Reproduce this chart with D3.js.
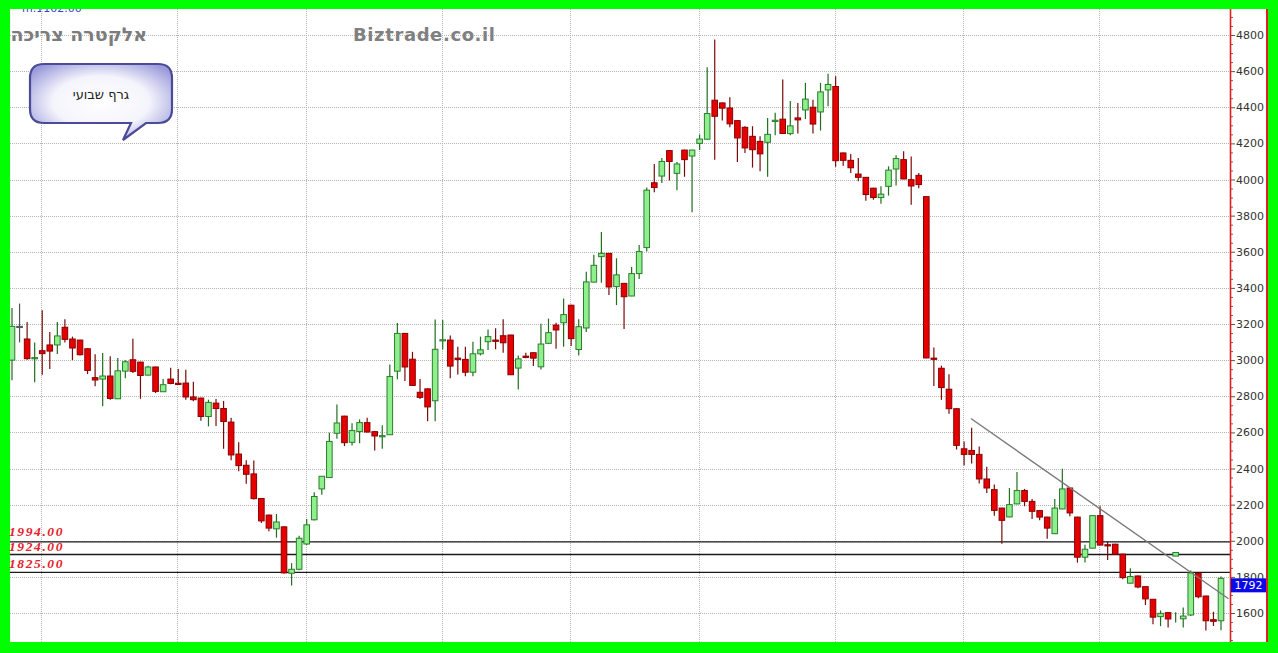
<!DOCTYPE html>
<html><head><meta charset="utf-8">
<script src="https://cdn.jsdelivr.net/npm/d3@7"></script>
<style>html,body{margin:0;padding:0;background:#00ff00;overflow:hidden}</style>
</head><body><svg id="c" width="1278" height="653"></svg>
<script>
// ---- data (weekly candles) ----
const opens=[3000,3187,3117,3010,3052,3084,3084,3182,3117,3111,
3063,2903,2895,2912,2786,2939,3002,2989,2917,2962,
2825,2895,2872,2873,2796,2790,2688,2762,2732,2657,
2480,2418,2370,2234,2142,2066,2077,1820,1842,1982,
2116,2287,2350,2595,2690,2545,2605,2654,2604,2578,
2587,2939,3148,3005,2822,2841,2775,3110,3111,3011,
3004,2933,3035,3102,3111,3135,3139,2956,3022,3041,
2963,3093,3194,3207,3304,3059,3178,3432,3573,3591,
3407,3425,3355,3479,3623,3982,4019,4160,4034,4163,
4130,4200,4223,4439,4424,4396,4326,4289,4239,4211,
4206,4324,4334,4254,4341,4385,4400,4374,4496,4515,
4147,4106,4030,4012,3952,3900,3962,4058,4110,3999,
4023,3905,3011,2955,2839,2731,2509,2500,2478,2342,
2283,2181,2132,2204,2278,2218,2167,2131,2039,2176,
2292,2131,1909,1959,2139,1978,1981,1926,1765,1805,
1746,1676,1580,1602,1915,1568,1589,1820,1694,1563,
1557];
const highs=[3289,3313,3211,3098,3276,3156,3211,3226,3130,3113,
3065,3032,3039,3021,3012,3000,3119,2991,2969,2964,
2895,2958,2951,2947,2880,2792,2781,2785,2774,2681,
2546,2446,2444,2236,2146,2148,2080,1876,2028,2120,
2268,2357,2598,2754,2692,2650,2672,2681,2606,2639,
2976,3206,3150,3046,2896,2843,3225,3222,3137,3074,
3074,3102,3130,3170,3176,3226,3141,3026,3041,3043,
3202,3230,3207,3341,3306,3226,3489,3584,3710,3593,
3564,3427,3516,3638,3956,4086,4119,4162,4097,4165,
4165,4249,4622,4775,4426,4456,4328,4295,4295,4239,
4341,4369,4554,4434,4424,4535,4441,4535,4585,4572,
4149,4141,4119,4014,3954,3962,4073,4134,4156,4128,
4036,3907,3070,2969,2922,2733,2550,2626,2522,2409,
2311,2183,2292,2381,2287,2231,2169,2133,2231,2398,
2294,2133,1978,2141,2191,1996,1983,1928,1848,1807,
1748,1678,1614,1604,1604,1631,1835,1822,1696,1607,
1802];
const lows=[2888,3098,3002,2877,2919,2951,3034,3098,3000,3025,
2923,2855,2744,2781,2786,2900,2929,2786,2915,2818,
2823,2867,2865,2781,2772,2664,2633,2635,2509,2445,
2385,2315,2229,2098,2052,2017,1818,1752,1836,1976,
2112,2255,2348,2565,2524,2528,2540,2600,2500,2509,
2585,2894,2885,2859,2785,2662,2661,3059,2900,2920,
2911,2911,3026,3056,3060,3041,2917,2837,3011,2967,
2948,3090,3063,3074,3078,3026,3156,3430,3428,3360,
3305,3172,3353,3449,3601,3930,3980,3995,3941,4015,
3819,4163,4221,4110,4326,4289,4097,4147,4066,4045,
4015,4245,4252,4245,4255,4335,4255,4271,4406,4070,
4076,4036,3990,3882,3888,3866,3911,3967,4002,3860,
3952,3010,2857,2780,2703,2505,2417,2428,2317,2265,
2139,1983,2130,2202,2191,2120,2113,2011,2037,2174,
2135,1879,1879,1957,1976,1894,1924,1787,1763,1737,
1644,1538,1527,1520,1548,1520,1583,1681,1503,1528,
1505];
const closes=[3187,3187,3008,3014,3036,3050,3134,3115,3067,3030,
2943,2890,2912,2788,2941,2991,2938,2915,2962,2827,
2864,2871,2869,2796,2781,2688,2766,2732,2660,2475,
2416,2368,2233,2110,2070,2104,1822,1842,2014,2088,
2245,2357,2550,2652,2543,2610,2654,2602,2580,2582,
2909,3148,2962,2860,2794,2741,3060,3113,2967,3004,
2933,3035,3057,3130,3104,3096,2919,3007,3015,3011,
3089,3152,3167,3252,3119,3185,3433,3525,3591,3405,
3472,3351,3479,3601,3941,3956,4100,4100,4086,4110,
4163,4224,4365,4350,4395,4308,4230,4175,4165,4142,
4250,4328,4255,4297,4330,4445,4307,4485,4526,4104,
4106,4065,4012,3917,3900,3919,4052,4116,4003,3964,
3972,3012,3008,2848,2731,2528,2478,2478,2342,2292,
2168,2113,2200,2278,2218,2163,2131,2070,2181,2287,
2154,1909,1953,2139,1976,1974,1926,1796,1802,1744,
1678,1577,1598,1567,1935,1583,1822,1690,1557,1554,
1792];
const yTicks=[1600,1800,2000,2200,2400,2600,2800,3000,3200,3400,3600,3800,4000,4200,4400,4600,4800];
const gridWeeks=[4,22,39,57,74,91,109,126,144];
const levels=[1994,1924,1825];
const levelLabels=["1994.00","1924.00","1825.00"];
const trendWeeks=[126.9,161];
const trendPrices=[2677,1679];
const lastPrice=1792;
const titleStock="אלקטרה צריכה";
const titleSite="Biztrade.co.il";
const calloutText="גרף שבועי";
const topText="m.1102.00";

// ---- drawing ----
const svg=d3.select("#c");
const W=1278,H=653;
const plotL=10,plotT=9,plotR=1230,plotB=642;
const x=d3.scaleLinear().domain([0,opens.length-1]).range([12,1221]);
const y=d3.scaleLinear().domain([1600,4800]).range([613,35]);

svg.append("rect").attr("width",W).attr("height",H).attr("fill","#00ff00");
svg.append("rect").attr("x",plotL).attr("y",plotT).attr("width",1268-plotL).attr("height",plotB-plotT).attr("fill","#ffffff");

const defs=svg.append("defs");
defs.append("clipPath").attr("id","clip").append("rect")
  .attr("x",plotL).attr("y",plotT).attr("width",plotR-plotL).attr("height",plotB-plotT);
const rg=defs.append("radialGradient").attr("id","cg").attr("cx","50%").attr("cy","50%").attr("r","62%");
rg.append("stop").attr("offset","0%").attr("stop-color","#ffffff");
rg.append("stop").attr("offset","55%").attr("stop-color","#f4f4fc");
rg.append("stop").attr("offset","100%").attr("stop-color","#9c9cdc");

// top cut text (partly hidden by the frame)
svg.append("text").attr("x",22).attr("y",12).attr("font-family","DejaVu Sans, sans-serif")
  .attr("font-size",11).attr("fill","#3a3ad8").text(topText);

const plot=svg.append("g").attr("clip-path","url(#clip)");

// grid
plot.selectAll(".hg").data(yTicks).join("line")
  .attr("x1",plotL).attr("x2",plotR)
  .attr("y1",d=>Math.round(y(d))+0.5).attr("y2",d=>Math.round(y(d))+0.5)
  .attr("stroke","#b4b4b4").attr("stroke-width",1).attr("stroke-dasharray","1,1");
plot.selectAll(".vg").data(gridWeeks).join("line")
  .attr("x1",d=>Math.round(x(d)-1)+0.5).attr("x2",d=>Math.round(x(d)-1)+0.5)
  .attr("y1",plotT).attr("y2",plotB)
  .attr("stroke","#b4b4b4").attr("stroke-width",1).attr("stroke-dasharray","1,1");

// level lines
plot.selectAll(".lv").data(levels).join("line")
  .attr("x1",plotL).attr("x2",plotR)
  .attr("y1",d=>y(d)).attr("y2",d=>y(d))
  .attr("stroke","#1a1a1a").attr("stroke-width",1.3);

// candles
const idx=d3.range(opens.length);
const bodyW=5.6;
const col=i=>closes[i]>opens[i]?"up":(closes[i]<opens[i]?"down":"flat");
const wickC={up:"#1f6f1f",down:"#7a0a0a",flat:"#555555"};
const fillC={up:"#8fef8f",down:"#e60000",flat:"#555555"};
const strokeC={up:"#2a7d2a",down:"#8a0000",flat:"#555555"};
const cg=plot.append("g");
cg.selectAll(".wk").data(idx).join("line")
  .attr("x1",i=>x(i)).attr("x2",i=>x(i))
  .attr("y1",i=>y(highs[i])).attr("y2",i=>y(lows[i]))
  .attr("stroke",i=>wickC[col(i)]).attr("stroke-width",1.2);
cg.selectAll(".bd").data(idx).join("rect")
  .attr("x",i=>x(i)-bodyW/2)
  .attr("y",i=>y(Math.max(opens[i],closes[i])))
  .attr("width",bodyW)
  .attr("height",i=>Math.max(1.2,Math.abs(y(opens[i])-y(closes[i]))))
  .attr("fill",i=>fillC[col(i)])
  .attr("stroke",i=>strokeC[col(i)]).attr("stroke-width",1);

// trend line
plot.append("line")
  .attr("x1",x(trendWeeks[0])).attr("y1",y(trendPrices[0]))
  .attr("x2",x(trendWeeks[1])).attr("y2",y(trendPrices[1]))
  .attr("stroke","#7a7a7a").attr("stroke-width",1.4);

// level labels
const labelDy=[-5.5,-3,-4];
svg.selectAll(".ll").data(levels).join("text")
  .attr("x",9).attr("y",(d,i)=>y(d)+labelDy[i])
  .text((d,i)=>levelLabels[i])
  .attr("font-family","Liberation Serif, Times New Roman, serif")
  .attr("font-style","italic").attr("font-weight","bold")
  .attr("font-size",13.5).attr("letter-spacing",1.6)
  .attr("fill","#e8202a");

// right axis
const axG=svg.append("g").attr("transform",`translate(${plotR},0)`);
const minor=d3.range(1450,4951,50).filter(v=>v%200!==0);
axG.append("g").call(d3.axisRight(y).tickValues(minor).tickSize(3).tickFormat(""))
  .call(g=>g.select(".domain").remove())
  .call(g=>g.selectAll("line").attr("stroke","#666"));
axG.append("g").call(d3.axisRight(y).tickValues(yTicks).tickSize(5).tickPadding(1).tickFormat(d3.format("d")))
  .call(g=>g.select(".domain").remove())
  .call(g=>g.selectAll("line").attr("stroke","#555"))
  .call(g=>g.selectAll("text").attr("font-family","DejaVu Sans, Verdana, sans-serif").attr("font-size",11).attr("fill","#333"));
svg.append("line").attr("x1",plotR+0.5).attr("x2",plotR+0.5).attr("y1",plotT).attr("y2",plotB).attr("stroke","#e02020").attr("stroke-width",1.6);
svg.append("line").attr("x1",1267).attr("x2",1267).attr("y1",plotT).attr("y2",plotB).attr("stroke","#e02020").attr("stroke-width",2);

// last price box
svg.append("rect").attr("x",plotR+1).attr("y",y(lastPrice)).attr("width",35).attr("height",14).attr("fill","#0a0ae6");
svg.append("text").attr("x",plotR+18.5).attr("y",y(lastPrice)+11).attr("text-anchor","middle")
  .attr("font-family","DejaVu Sans, Verdana, sans-serif").attr("font-size",11).attr("fill","#ffffff").text(lastPrice);

// titles
svg.append("text").attr("x",147).attr("y",41).attr("text-anchor","end")
  .attr("font-family","DejaVu Sans, sans-serif").attr("font-weight","bold").attr("font-size",19)
  .attr("fill","#7c7c7c").text(titleStock);
svg.append("text").attr("x",353).attr("y",41)
  .attr("font-family","DejaVu Sans, Verdana, sans-serif").attr("font-weight","bold").attr("font-size",18)
  .attr("fill","#808080").attr("textLength",142).attr("lengthAdjust","spacing").text(titleSite);

// callout
const cp=d3.path();
const bx0=30,by0=64,bx1=172,by1=123,r=14;
cp.moveTo(bx0+r,by0);
cp.lineTo(bx1-r,by0);cp.quadraticCurveTo(bx1,by0,bx1,by0+r);
cp.lineTo(bx1,by1-r);cp.quadraticCurveTo(bx1,by1,bx1-r,by1);
cp.lineTo(146,by1);cp.lineTo(123,140);cp.lineTo(131,by1);
cp.lineTo(bx0+r,by1);cp.quadraticCurveTo(bx0,by1,bx0,by1-r);
cp.lineTo(bx0,by0+r);cp.quadraticCurveTo(bx0,by0,bx0+r,by0);
cp.closePath();
svg.append("path").attr("d",cp.toString()).attr("fill","url(#cg)").attr("stroke","#4b4b98").attr("stroke-width",2.2);
svg.append("text").attr("x",101).attr("y",99).attr("text-anchor","middle")
  .attr("font-family","DejaVu Sans, sans-serif").attr("font-size",13).attr("fill","#222")
  .text(calloutText);

// frame top strip over the cut text
svg.append("rect").attr("width",W).attr("height",plotT).attr("fill","#00ff00");
</script></body></html>
